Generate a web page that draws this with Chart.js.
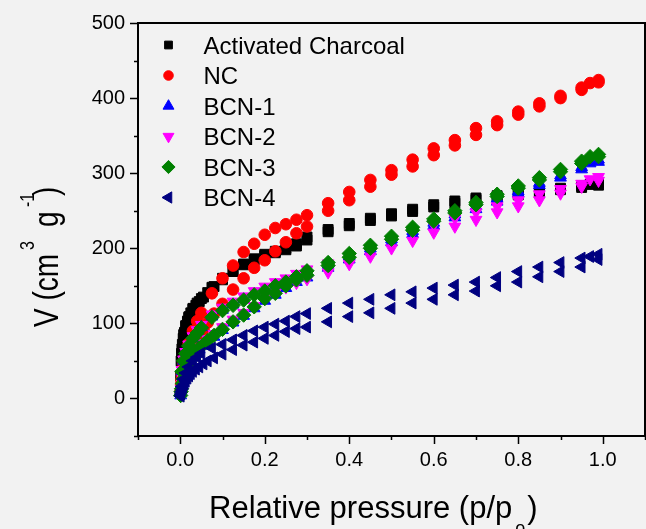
<!DOCTYPE html>
<html>
<head>
<meta charset="utf-8">
<script src="https://cdn.jsdelivr.net/npm/chart.js@4.4.1/dist/chart.umd.min.js"></script>
<style>
  html, body { margin: 0; padding: 0; background: #f2f2f2; overflow: hidden; }
  canvas { display: block; }
</style>
</head>
<body>
<canvas id="isotherm" width="646" height="529"></canvas>
<script>
// relative pressure of the two branches
const pAds = [0.001, 0.002, 0.003, 0.005, 0.007, 0.01, 0.013, 0.017, 0.021, 0.025, 0.03, 0.037, 0.045, 0.055, 0.065,
  0.08, 0.1, 0.125, 0.15, 0.175, 0.2, 0.225, 0.25, 0.275, 0.3,
  0.35, 0.4, 0.45, 0.5, 0.55, 0.6, 0.65, 0.7, 0.75, 0.8, 0.85, 0.9, 0.95, 0.99];
const pDes = [0.99, 0.97, 0.95, 0.9, 0.85, 0.8, 0.75, 0.7, 0.65, 0.6, 0.55, 0.5, 0.45, 0.4, 0.35,
  0.3, 0.275, 0.25, 0.225, 0.2, 0.175, 0.15, 0.125, 0.1, 0.075, 0.05,
  0.04, 0.03, 0.02, 0.013, 0.008, 0.004];

// V (cm3 g-1)
const acAds = [30, 50, 60, 72, 80, 88, 96, 103, 109, 114, 119, 124, 129, 135, 141,
  149, 158, 169, 178, 184, 190, 194, 198, 203, 211,
  222, 230, 237, 243, 249, 255, 260, 265, 268, 271, 274, 278, 281, 284];
const acDes = [287, 285, 283, 280, 276, 273, 270, 267, 263, 258, 252, 246, 240, 233, 225,
  215, 206, 200, 196, 192, 186, 179, 170, 160, 148, 133,
  127, 120, 108, 97, 85, 66];

const ncAds = [10, 18, 24, 32, 38, 44, 49, 53, 57, 61, 66, 73, 81, 92, 101,
  113, 126, 145, 160, 174, 184, 196, 208, 220, 229,
  250, 264, 282, 298, 309, 324, 337, 351, 364, 378, 389, 400, 411, 421];
const ncDes = [424, 420, 414, 403, 393, 382, 369, 360, 344, 333, 318, 304, 291, 275, 260,
  244, 238, 232, 227, 218, 206, 195, 177, 160, 140, 114,
  103, 90, 73, 58, 46, 32];

const bcn1Ads = [4, 8, 12, 18, 24, 31, 37, 42, 47, 51, 55, 60, 65, 70, 75,
  82, 91, 101, 110, 120, 130, 138, 147, 155, 161,
  174, 185, 196, 208, 219, 230, 241, 252, 262, 273, 284, 294, 305, 315];
const bcn1Des = [318, 313, 308, 297, 287, 276, 266, 256, 245, 234, 223, 212, 200, 189, 178,
  167, 161, 155, 150, 144, 139, 132, 125, 118, 109, 95,
  88, 80, 70, 60, 50, 36];

const bcn2Ads = [4, 9, 13, 20, 26, 33, 39, 45, 50, 54, 58, 63, 68, 74, 79,
  86, 95, 105, 114, 123, 133, 141, 148, 154, 159,
  168, 179, 189, 200, 210, 221, 229, 238, 248, 256, 264, 273, 282, 290];
const bcn2Des = [295, 292, 286, 279, 272, 264, 256, 248, 240, 231, 221, 210, 200, 190, 180,
  172, 166, 160, 155, 149, 143, 136, 129, 121, 112, 98,
  91, 83, 72, 62, 52, 38];

const bcn3Ads = [4, 9, 13, 20, 26, 33, 39, 44, 49, 53, 57, 62, 67, 72, 77,
  84, 92, 102, 111, 122, 133, 140, 150, 158, 164,
  177, 188, 200, 212, 224, 236, 247, 258, 269, 280, 291, 302, 313, 322];
const bcn3Des = [325, 322, 316, 305, 294, 283, 272, 261, 250, 239, 228, 216, 204, 193, 181,
  170, 162, 155, 150, 143, 138, 131, 124, 117, 108, 94,
  87, 80, 70, 60, 50, 36];

const bcn4Ads = [3, 6, 9, 12, 15, 19, 23, 27, 30, 33, 36, 39, 42, 46, 50,
  54, 59, 65, 71, 75, 80, 84, 89, 93, 95,
  102, 109, 114, 120, 127, 132, 138, 143, 150, 155, 162, 169, 175, 185];
const bcn4Des = [192, 189, 187, 181, 175, 169, 161, 155, 151, 147, 142, 138, 132, 127, 120,
  113, 109, 103, 99, 95, 90, 84, 78, 72, 67, 60,
  55, 50, 42, 34, 26, 16];

const seriesNames = ['Activated Charcoal', 'NC', 'BCN-1', 'BCN-2', 'BCN-3', 'BCN-4'];
const xTicks = [0, 0.2, 0.4, 0.6, 0.8, 1.0];
const yTicks = [0, 100, 200, 300, 400, 500];

// marker looks, same order as seriesNames
const looks = [
  { color: '#000000', style: 'rect', rot: 0, r: 7, legendR: 5.5 },
  { color: '#ff0000', style: 'circle', rot: 0, r: 5.8, legendR: 4.8 },
  { color: '#0000ff', style: 'triangle', rot: 0, r: 6.8, legendR: 6.3 },
  { color: '#ff00ff', style: 'triangle', rot: 180, r: 6.8, legendR: 6.3 },
  { color: '#008000', style: 'rectRot', rot: 0, r: 7.2, legendR: 6.6 },
  { color: '#000080', style: 'triangle', rot: -90, r: 6.8, legendR: 6.5 }
];

function branches(ads, des) {
  const a = pAds.map((p, i) => ({ x: p, y: ads[i] }));
  const d = pDes.map((p, i) => ({ x: p, y: des[i] }));
  return a.concat(d);
}

const seriesData = [
  branches(acAds, acDes),
  branches(ncAds, ncDes),
  branches(bcn1Ads, bcn1Des),
  branches(bcn2Ads, bcn2Des),
  branches(bcn3Ads, bcn3Des),
  branches(bcn4Ads, bcn4Des)
];

const datasets = seriesNames.map((name, i) => ({
  label: name,
  data: seriesData[i],
  pointStyle: looks[i].style,
  rotation: looks[i].rot,
  pointRadius: looks[i].r,
  backgroundColor: looks[i].color,
  borderColor: looks[i].color,
  borderWidth: 1,
  showLine: false,
  order: seriesNames.length - i   // later series drawn on top
}));

const FONT = "'Liberation Sans', Arial, sans-serif";

// frame, tick marks, axis titles and legend
const decorations = {
  id: 'decorations',
  afterDraw(chart) {
    const ctx = chart.ctx;
    const area = chart.chartArea;
    const xs = chart.scales.x, ys = chart.scales.y;
    ctx.save();
    ctx.strokeStyle = '#000';
    ctx.lineWidth = 2;
    ctx.strokeRect(area.left, area.top, area.right - area.left, area.bottom - area.top);

    // ticks: major every 0.2 / 100, minor in between
    ctx.lineWidth = 1.5;
    ctx.beginPath();
    for (let i = -1; i <= 11; i++) {
      const px = Math.round(xs.getPixelForValue(i / 10)) + 0.5;
      const len = (i % 2 === 0) ? 8 : 4;
      ctx.moveTo(px, area.bottom);
      ctx.lineTo(px, area.bottom + len);
    }
    for (let v = -50; v <= 500; v += 50) {
      const py = Math.round(ys.getPixelForValue(v)) + 0.5;
      const len = (v % 100 === 0) ? 8 : 4;
      ctx.moveTo(area.left, py);
      ctx.lineTo(area.left - len, py);
    }
    ctx.stroke();

    // x title with subscript
    ctx.fillStyle = '#000';
    ctx.textBaseline = 'alphabetic';
    ctx.textAlign = 'left';
    let x = 209;
    ctx.font = '31px ' + FONT;
    ctx.fillText('Relative pressure (p/p', x, 518);
    x += ctx.measureText('Relative pressure (p/p').width + 3;
    ctx.font = '18px ' + FONT;
    ctx.fillText('o', x, 534);
    x += ctx.measureText('o').width + 2;
    ctx.font = '31px ' + FONT;
    ctx.fillText(')', x, 518);

    // y title, rotated, with superscripts
    ctx.save();
    ctx.translate(58, 327);
    ctx.rotate(-Math.PI / 2);
    ctx.scale(1, 1.25);
    ctx.font = '28px ' + FONT;
    ctx.fillText('V (cm', 0, 0);
    ctx.font = '16px ' + FONT;
    ctx.fillText('3', 77, -19);
    ctx.font = '28px ' + FONT;
    ctx.fillText('g', 100, 0);
    ctx.font = '16px ' + FONT;
    ctx.fillText('-1', 120, -19);
    ctx.font = '28px ' + FONT;
    ctx.fillText(')', 131, 0);
    ctx.restore();

    // legend
    ctx.font = '24px ' + FONT;
    seriesNames.forEach((name, i) => {
      const rowY = 45 + i * 30.5;
      ctx.fillStyle = looks[i].color;
      ctx.strokeStyle = looks[i].color;
      ctx.lineWidth = 1;
      Chart.helpers.drawPoint(ctx, {
        pointStyle: looks[i].style,
        rotation: looks[i].rot,
        radius: looks[i].legendR,
        borderWidth: 1
      }, 168.5, rowY);
      ctx.fillStyle = '#000';
      ctx.fillText(name, 203.5, rowY + 8.5);
    });
    ctx.restore();
  }
};

new Chart(document.getElementById('isotherm'), {
  type: 'scatter',
  data: { datasets: datasets },
  options: {
    responsive: false,
    animation: false,
    layout: { autoPadding: false, padding: { left: 0, top: 23, right: 1, bottom: 0 } },
    plugins: {
      legend: { display: false },
      tooltip: { enabled: false }
    },
    scales: {
      x: {
        type: 'linear',
        min: -0.1,
        max: 1.1,
        afterBuildTicks: s => { s.ticks = xTicks.map(v => ({ value: v })); },
        afterFit: s => { s.height = 93; s.paddingLeft = 0; s.paddingRight = 0; },
        grid: { drawOnChartArea: false, color: 'rgba(0,0,0,0)', tickLength: 8 },
        border: { display: false },
        ticks: {
          color: '#000',
          padding: 4,
          maxRotation: 0,
          font: { family: FONT, size: 20 },
          callback: v => Number(v).toFixed(1)
        }
      },
      y: {
        type: 'linear',
        min: -50,
        max: 500,
        afterBuildTicks: s => { s.ticks = yTicks.map(v => ({ value: v })); },
        afterFit: s => { s.width = 138; s.paddingTop = 0; s.paddingBottom = 0; },
        grid: { drawOnChartArea: false, color: 'rgba(0,0,0,0)', tickLength: 8 },
        border: { display: false },
        ticks: {
          color: '#000',
          padding: 5,
          font: { family: FONT, size: 20 },
          callback: v => String(v)
        }
      }
    }
  },
  plugins: [decorations]
});
</script>
</body>
</html>
